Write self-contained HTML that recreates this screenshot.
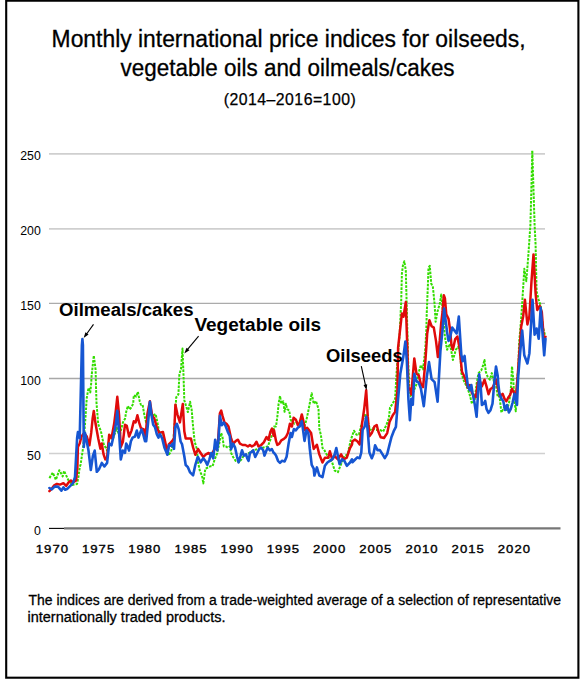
<!DOCTYPE html>
<html><head><meta charset="utf-8"><style>
html,body{margin:0;padding:0;background:#fff;width:586px;height:680px;overflow:hidden}
svg{position:absolute;left:0;top:0}
text{font-family:"Liberation Sans",sans-serif;fill:#000}
</style></head><body>
<svg width="586" height="680" viewBox="0 0 586 680">
<rect x="6.2" y="0.7" width="572.2" height="677" fill="none" stroke="#000" stroke-width="2.1"/>
<g><line x1="49" y1="153.9" x2="545" y2="153.9" stroke="#cfcfcf" stroke-width="1.6"/><line x1="49" y1="228.9" x2="545" y2="228.9" stroke="#cfcfcf" stroke-width="1.6"/><line x1="49" y1="303.4" x2="545" y2="303.4" stroke="#ababab" stroke-width="1.3"/><line x1="49" y1="378.5" x2="545" y2="378.5" stroke="#a8a8a8" stroke-width="1.3"/><line x1="49" y1="453.5" x2="545" y2="453.5" stroke="#d0d0d0" stroke-width="1.5"/></g>
<line x1="49" y1="528.4" x2="64" y2="528.4" stroke="#000" stroke-width="1.1"/>
<line x1="64" y1="528.4" x2="560.5" y2="528.4" stroke="#777" stroke-width="2.4"/>
<g font-size="12.3" text-anchor="end"><text x="40.8" y="160.1">250</text><text x="40.8" y="235.1">200</text><text x="40.8" y="310.1">150</text><text x="40.8" y="385.1">100</text><text x="40.8" y="460.1">50</text><text x="40.8" y="534.9">0</text></g>
<g font-size="11.6" text-anchor="middle" letter-spacing="0.9" stroke="#000" stroke-width="0.35"><text transform="translate(52.4,553) scale(1.13,1)" x="0" y="0">1970</text><text transform="translate(98.6,553) scale(1.13,1)" x="0" y="0">1975</text><text transform="translate(144.8,553) scale(1.13,1)" x="0" y="0">1980</text><text transform="translate(191.0,553) scale(1.13,1)" x="0" y="0">1985</text><text transform="translate(237.2,553) scale(1.13,1)" x="0" y="0">1990</text><text transform="translate(283.4,553) scale(1.13,1)" x="0" y="0">1995</text><text transform="translate(329.6,553) scale(1.13,1)" x="0" y="0">2000</text><text transform="translate(375.8,553) scale(1.13,1)" x="0" y="0">2005</text><text transform="translate(422.0,553) scale(1.13,1)" x="0" y="0">2010</text><text transform="translate(468.2,553) scale(1.13,1)" x="0" y="0">2015</text><text transform="translate(514.4,553) scale(1.13,1)" x="0" y="0">2020</text></g>
<text x="288.6" y="46.9" font-size="23" stroke="#000" stroke-width="0.3" text-anchor="middle" textLength="474" lengthAdjust="spacingAndGlyphs">Monthly international price indices for oilseeds,</text>
<text x="287.6" y="75.7" font-size="23" stroke="#000" stroke-width="0.3" text-anchor="middle" textLength="334" lengthAdjust="spacingAndGlyphs">vegetable oils and oilmeals/cakes</text>
<text x="289.7" y="104.8" font-size="15.8" stroke="#000" stroke-width="0.25" text-anchor="middle" textLength="132" lengthAdjust="spacing">(2014–2016=100)</text>
<g fill="none" stroke-linejoin="round" stroke-linecap="round">
<polyline points="49.4,478.1 52.8,472.6 55.9,479.8 59.3,470.2 62.7,476.4 64.1,470.9 68.2,479.8 72.3,484.9 77.1,483.9 78.4,477.1 79.8,466.8 80.6,464.7 83.2,447.0 85.0,424.1 86.8,397.6 88.5,387.9 90.3,392.4 91.2,383.0 91.6,375.9 93.8,355.6 95.6,369.7 96.0,386.5 96.5,402.9 98.2,424.1 100.9,431.2 103.5,443.5 107.1,450.6 109.7,436.5 113.2,438.2 116.8,427.6 119.4,436.5 122.9,422.4 125.0,418.8 126.2,411.8 127.9,405.9 129.7,409.4 131.5,407.1 133.2,403.5 133.8,395.3 136.2,396.5 137.9,391.8 139.7,401.2 140.9,404.7 142.6,404.7 144.4,415.3 146.2,422.4 148.5,415.3 150.9,414.1 153.2,415.3 155.6,414.1 157.4,422.4 159.1,431.8 160.0,432.6 162.9,432.6 165.9,448.8 168.1,455.4 171.0,451.8 173.2,442.9 174.7,422.4 176.2,397.4 178.4,394.4 179.4,374.2 181.0,369.0 182.5,348.5 183.5,375.0 184.3,400.3 185.7,404.7 187.9,412.1 190.1,401.8 191.6,409.1 193.1,426.8 194.6,441.5 196.8,448.8 198.0,462.3 200.0,471.5 202.0,475.5 203.3,483.4 205.3,468.9 207.9,467.5 210.6,466.2 212.6,466.2 214.6,459.6 217.2,453.0 219.2,443.7 221.2,433.1 222.5,437.1 223.8,446.4 225.8,446.4 227.8,447.7 229.8,446.4 231.1,453.0 233.1,457.0 235.7,460.9 237.7,460.9 238.6,462.3 241.3,459.6 243.9,455.6 249.2,453.0 253.2,450.3 257.9,449.0 262.5,447.7 267.8,446.4 270.4,439.7 273.1,431.8 274.0,426.4 276.0,426.4 277.3,417.1 278.6,403.8 280.0,395.9 281.3,403.8 283.3,401.2 284.6,411.8 285.9,403.8 287.2,409.1 289.2,410.5 290.6,419.7 292.5,422.4 294.5,423.7 297.2,422.4 299.8,421.1 302.5,423.7 304.5,426.4 306.5,419.7 308.4,410.5 310.4,399.9 311.7,393.2 313.7,403.8 316.0,401.0 318.5,409.1 319.3,428.5 320.9,435.0 322.5,448.0 324.1,449.6 326.6,454.4 329.8,459.3 332.2,462.5 334.7,470.6 337.9,472.2 341.1,464.1 344.4,456.1 347.6,454.4 350.8,439.9 354.0,430.7 356.5,434.7 358.9,434.7 362.1,421.8 365.4,413.7 367.8,421.8 370.2,429.9 372.7,428.3 375.9,429.9 379.9,429.9 383.2,431.5 386.4,425.0 388.8,418.5 390.0,407.6 392.9,403.2 395.1,398.8 396.6,372.4 398.1,352.0 399.6,335.0 401.2,301.3 401.9,273.5 403.0,265.0 404.3,261.2 405.8,270.4 406.6,301.3 408.1,360.0 409.2,385.0 410.6,395.9 413.5,391.5 416.5,384.1 418.7,372.4 420.9,365.0 423.1,369.4 425.3,348.8 426.3,330.0 426.8,311.8 427.9,285.0 428.5,267.6 429.8,265.9 431.2,283.5 432.9,287.1 434.6,304.1 435.6,321.8 437.5,311.5 439.7,304.1 441.2,294.6 442.6,308.5 444.9,336.5 447.1,349.7 450.0,343.8 452.9,360.0 455.9,349.7 458.1,346.8 460.3,351.2 461.3,373.1 464.0,381.1 466.6,386.4 469.3,393.0 471.9,403.6 474.6,400.9 476.6,383.7 478.5,373.1 481.2,370.5 483.2,365.2 484.5,359.9 485.8,371.8 487.8,377.1 489.8,379.7 491.8,373.1 493.8,381.1 495.8,383.7 497.7,397.0 499.5,396.3 501.4,412.5 503.9,407.5 506.4,410.0 508.9,403.8 510.8,390.0 512.0,366.3 513.3,380.0 514.5,402.5 515.8,411.3 517.0,380.0 518.3,368.8 519.1,343.0 521.2,318.2 522.8,293.5 524.3,268.8 526.3,281.2 528.4,254.4 530.4,225.0 531.6,180.0 532.3,150.6 533.2,180.0 534.6,225.0 535.6,245.0 536.6,291.5 538.7,299.7 540.7,305.9 542.8,326.5 544.9,334.7" stroke="#33dd00" stroke-width="2.0" stroke-dasharray="2.6 1.2" stroke-linecap="butt"/>
<polyline points="49.4,491.1 51.8,488.7 53.9,485.6 56.9,483.9 60.0,484.6 63.4,483.2 66.2,485.9 68.5,482.5 70.9,480.5 73.0,482.5 76.1,480.5 77.4,466.8 77.9,447.0 79.7,443.5 81.5,436.5 84.1,432.9 86.8,436.5 89.4,445.3 91.2,432.9 92.6,418.8 93.8,410.9 95.6,424.1 98.2,438.2 100.4,448.8 101.8,443.5 103.5,454.1 105.3,459.4 107.1,457.6 109.2,434.7 111.5,438.2 114.1,424.1 115.9,410.0 117.3,396.8 119.1,415.3 120.8,447.0 122.9,441.8 125.0,424.7 126.8,425.9 129.1,436.5 131.5,430.6 133.8,421.2 135.6,422.4 137.4,415.3 139.1,422.4 140.9,428.2 143.8,429.4 145.6,436.5 147.4,414.1 149.9,401.2 152.1,415.3 154.4,418.8 156.8,427.1 159.1,432.9 160.0,432.6 162.9,431.9 165.1,441.5 167.4,453.2 168.8,444.4 171.8,441.5 174.0,438.5 175.4,404.7 177.6,415.0 179.9,422.4 182.8,404.0 184.3,431.2 185.7,438.5 188.7,438.5 190.9,438.5 193.1,447.4 195.3,454.7 197.5,450.3 198.0,449.0 200.6,453.0 203.3,457.0 205.9,454.3 208.6,453.0 211.2,455.6 213.9,450.3 217.9,443.7 219.9,413.2 221.2,410.6 222.5,415.9 224.5,422.5 226.5,423.8 228.5,426.5 231.1,438.4 233.1,443.7 235.7,441.1 237.7,439.7 238.0,439.7 240.0,443.7 242.6,445.0 245.3,445.0 247.9,446.4 249.9,445.0 251.9,446.4 254.5,445.0 256.5,441.7 258.5,446.4 261.2,445.0 263.8,442.4 266.5,437.1 268.5,439.7 270.4,431.8 272.0,428.5 273.7,435.8 274.0,430.3 276.0,440.9 277.3,444.9 279.3,443.6 281.3,440.3 283.9,438.9 285.9,437.0 287.9,433.0 289.9,423.7 291.9,426.4 293.6,417.7 295.9,419.7 297.8,425.0 299.8,422.4 301.8,414.4 303.1,419.7 305.1,430.3 307.1,427.7 309.1,430.3 311.1,433.0 313.7,448.9 314.4,448.0 316.9,444.7 319.3,454.4 322.5,462.5 324.9,457.7 328.2,457.7 329.8,451.2 332.2,459.3 334.7,456.1 337.9,459.3 341.1,454.4 343.6,459.3 346.8,457.7 350.0,448.0 352.0,444.7 352.4,441.2 354.9,439.6 357.3,441.2 359.7,444.4 362.1,423.4 364.2,408.8 366.2,390.2 367.8,416.9 369.4,436.3 371.8,433.1 374.3,426.6 376.7,425.0 378.3,431.5 380.7,437.2 384.0,438.0 387.2,433.1 389.6,421.8 390.0,420.9 392.9,415.0 395.1,412.1 397.4,391.5 398.1,347.6 401.9,313.6 403.5,316.7 405.8,302.1 407.3,347.6 408.4,388.5 409.9,388.5 411.3,394.4 414.3,358.4 416.5,373.8 418.7,375.3 420.9,384.1 423.1,387.1 425.3,362.1 426.8,340.0 427.2,333.5 429.4,320.3 431.6,326.2 433.8,327.6 436.0,340.9 437.9,357.1 439.7,340.9 441.2,323.2 442.6,311.5 443.8,295.3 444.9,298.2 446.3,314.4 448.5,318.8 450.0,329.1 451.5,345.3 452.9,349.7 455.1,339.4 457.4,336.5 459.6,348.2 462.0,371.8 464.0,375.8 466.0,381.1 467.9,387.7 469.9,385.0 471.9,393.0 473.9,395.6 475.9,397.0 477.9,382.4 479.9,381.1 481.9,386.4 484.5,379.7 486.5,386.4 488.5,394.3 490.5,389.0 492.5,387.7 494.4,383.7 496.4,379.7 498.3,390.0 500.1,396.3 502.6,393.8 504.5,398.8 506.4,401.3 508.3,397.5 510.1,395.0 512.0,388.8 513.9,392.5 515.8,397.5 517.6,377.5 519.1,355.3 521.2,326.5 523.2,316.2 524.9,299.7 527.4,324.4 529.4,316.2 531.5,281.2 533.5,254.4 535.6,293.5 537.2,310.0 539.7,305.9 541.8,312.1 543.8,338.8 545.5,336.8" stroke="#e00a0a" stroke-width="2.5"/>
<polyline points="49.4,488.0 51.8,489.4 54.6,486.6 58.0,486.6 61.4,490.7 63.4,487.3 65.1,489.7 67.5,488.7 70.3,485.9 73.0,483.2 75.0,477.1 77.1,438.2 77.9,432.1 79.7,438.2 81.9,345.0 82.4,339.0 82.9,345.0 83.8,447.0 85.0,432.9 86.8,441.8 88.5,450.6 90.8,470.0 92.9,455.9 94.7,450.6 96.8,471.8 99.1,469.1 101.8,462.9 104.4,466.5 107.1,462.9 109.2,443.5 111.5,445.3 113.8,434.7 115.9,424.1 117.3,410.9 119.1,432.9 120.8,459.4 122.9,450.6 125.0,452.9 126.2,443.5 127.4,445.9 129.1,450.6 130.9,441.2 132.6,437.6 135.0,436.5 136.8,430.6 138.5,437.6 139.7,434.1 141.5,429.4 143.2,434.1 145.0,441.2 146.2,441.2 147.9,424.7 149.9,401.8 151.5,415.3 153.2,424.7 155.0,427.1 156.8,434.1 158.5,437.6 160.0,434.1 162.2,438.5 164.4,447.4 167.4,454.7 169.1,445.1 171.0,445.9 172.5,443.7 174.0,448.8 175.4,426.8 176.9,423.8 178.8,429.7 180.6,441.5 182.1,444.4 184.3,456.2 185.7,465.0 187.9,467.2 190.1,472.4 193.1,475.3 195.3,465.0 197.5,457.6 198.0,457.0 200.6,462.3 203.3,458.3 205.3,460.9 207.3,464.9 209.3,459.6 211.2,453.0 213.2,458.3 215.2,439.7 217.2,450.3 218.5,439.7 219.9,415.9 221.8,425.2 223.8,422.5 225.8,426.5 227.8,431.8 229.8,435.8 231.1,449.0 233.1,443.7 235.1,447.7 237.1,457.0 238.6,462.3 240.6,455.6 242.0,450.3 243.9,455.6 245.9,454.3 247.3,458.3 248.6,460.9 249.9,453.0 251.9,451.7 253.2,450.3 255.2,457.0 257.2,453.0 259.2,449.0 261.2,447.7 263.2,450.3 264.5,455.6 266.5,450.3 267.8,447.7 269.8,450.3 271.8,449.0 273.7,453.0 274.0,452.8 276.0,455.5 278.0,460.8 280.0,462.8 281.9,460.8 284.6,461.5 286.6,456.8 288.6,443.6 290.6,433.0 291.9,437.0 293.9,429.0 295.9,430.3 297.8,427.7 299.8,426.4 301.8,421.1 303.1,430.3 304.5,440.9 306.5,430.3 308.4,433.0 309.8,448.9 311.7,464.8 313.7,468.7 314.4,475.5 316.9,467.4 319.3,475.5 322.5,477.1 324.9,465.8 327.4,462.5 329.8,460.9 332.2,459.3 334.7,454.4 336.3,448.0 337.9,456.1 339.5,464.1 341.9,459.3 344.4,460.9 346.8,465.8 350.0,462.5 352.0,459.3 352.4,462.2 354.9,459.8 357.3,457.4 359.7,458.2 361.3,452.5 362.6,429.9 364.6,426.6 366.2,416.9 367.8,431.5 369.4,452.5 371.8,458.2 373.5,454.1 375.1,445.2 377.5,450.1 379.9,450.1 382.4,454.1 384.8,458.2 387.2,454.1 389.6,444.4 391.5,437.0 393.7,431.2 395.9,426.8 398.1,398.8 400.3,373.8 403.2,357.6 405.4,341.5 406.9,362.1 408.4,398.8 409.9,420.1 411.3,398.8 412.8,404.7 414.3,373.8 416.5,381.2 418.7,382.6 420.9,388.5 423.8,406.2 426.8,376.8 429.0,362.1 431.6,379.1 434.6,382.1 437.6,401.8 440.4,351.2 442.6,329.1 444.1,308.5 445.6,320.3 447.1,332.1 448.5,340.9 450.0,337.9 452.2,327.6 454.4,330.6 456.6,333.5 458.8,316.6 461.3,354.6 462.6,361.2 464.6,355.9 466.0,370.5 467.9,386.4 469.9,390.3 471.3,385.0 472.6,393.0 474.6,403.6 476.6,416.8 477.9,395.6 479.2,374.4 480.5,383.7 481.9,404.9 483.8,403.6 485.2,400.9 486.5,408.9 488.5,412.8 490.5,410.2 492.5,403.6 494.4,381.1 496.0,366.5 497.7,375.8 498.3,383.8 499.5,393.8 501.4,398.8 503.3,401.3 505.1,410.0 507.0,405.0 508.9,412.5 510.8,408.8 512.6,402.5 514.5,393.8 515.8,400.0 517.0,405.0 518.1,378.0 520.1,353.2 522.2,330.6 524.3,355.3 527.4,363.5 529.4,353.2 532.5,299.7 534.6,334.7 536.6,328.5 538.7,338.8 540.7,307.9 542.8,336.8 544.2,355.3 545.5,338.8" stroke="#1656d2" stroke-width="2.6"/>
</g>
<line x1="93.5" y1="324.4" x2="86.41" y2="334.21" stroke="#000" stroke-width="1.1"/><path d="M83.60,338.10 L85.46,332.29 L88.54,334.51 Z" fill="#000"/><line x1="198.6" y1="336.1" x2="187.36" y2="349.70" stroke="#000" stroke-width="1.1"/><path d="M184.30,353.40 L186.53,347.72 L189.46,350.14 Z" fill="#000"/><line x1="361.3" y1="366.2" x2="365.57" y2="385.61" stroke="#000" stroke-width="1.1"/><path d="M366.60,390.30 L363.50,385.04 L367.21,384.23 Z" fill="#000"/>
<g font-weight="bold" font-size="18.8">
<text x="59" y="316.4" textLength="134.5" lengthAdjust="spacingAndGlyphs">Oilmeals/cakes</text>
<text x="194.4" y="330.9" textLength="126.8" lengthAdjust="spacingAndGlyphs">Vegetable oils</text>
<text x="326" y="362.2" textLength="76.8" lengthAdjust="spacingAndGlyphs">Oilseeds</text>
</g>
<g font-size="14" stroke="#000" stroke-width="0.28">
<text x="28.5" y="604.5" textLength="532.5" lengthAdjust="spacingAndGlyphs">The indices are derived from a trade-weighted average of a selection of representative</text>
<text x="27.5" y="622.1" textLength="198" lengthAdjust="spacingAndGlyphs">internationally traded products.</text>
</g>
</svg>
</body></html>
